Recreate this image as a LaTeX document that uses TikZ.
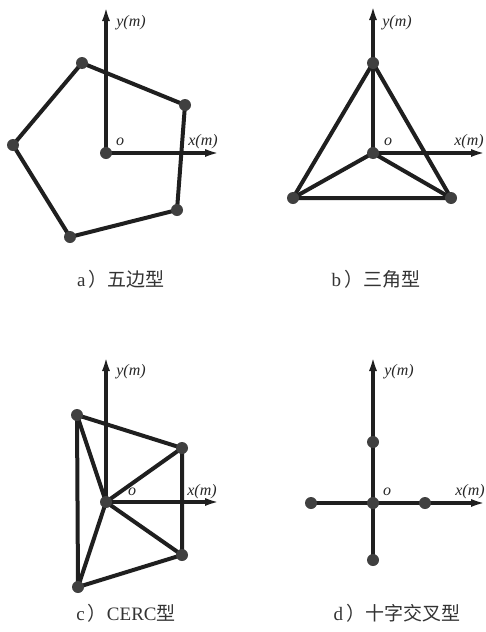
\documentclass[tikz,border=0pt]{standalone}
\usepackage{fontspec}
\setmainfont{Liberation Serif}
\newfontfamily\cjk{Noto Sans CJK SC}
\usetikzlibrary{arrows.meta}
\begin{document}
\begin{tikzpicture}[x=1pt,y=-1pt,
  edge/.style={line width=4pt,draw=black!88,line join=round},
  axis/.style={line width=4pt,draw=black!88,-{Latex[length=15pt,width=8pt]}},
  dot/.style={circle,fill=black!75,inner sep=0pt,minimum size=12pt},
  lab/.style={font=\fontsize{16}{16}\selectfont\itshape,inner sep=0pt,text=black!85},
  captxt/.style={font=\fontsize{19}{19}\selectfont,inner sep=0pt,text=black!80}]
\useasboundingbox (0,0) rectangle (486,632);
% ---------- a) pentagon
\coordinate (aO) at (106,153);
\coordinate (aY) at (106,6);
\coordinate (aX) at (220,153);
\coordinate (a1) at (82,63);
\coordinate (a2) at (185,105);
\coordinate (a3) at (177,210);
\coordinate (a4) at (70,237);
\coordinate (a5) at (13,145);
\draw[edge] (a1)--(a2)--(a3)--(a4)--(a5)--cycle;
\draw[axis] (aO)--(aY);
\draw[axis] (aO)--(aX);
\foreach \p in {aO,a1,a2,a3,a4,a5} \node[dot] (n\p) at (\p) {};
\node[lab] (ay) at (131,23) {y(m)};
\node[lab] (ao) at (120,142) {o};
\node[lab] (ax) at (203,142) {x(m)};
\node[captxt] (acap) at (121,279) {a\,{\cjk ）五边型}};
% ---------- b) triangle
\coordinate (bO) at (373,153);
\coordinate (bY) at (373,5);
\coordinate (bX) at (486,153);
\coordinate (b1) at (373,63);
\coordinate (b2) at (293,198);
\coordinate (b3) at (451,198);
\draw[edge] (b1)--(b2)--(b3)--cycle;
\draw[edge] (b2)--(bO)--(b3);
\draw[axis] (bO)--(bY);
\draw[axis] (bO)--(bX);
\foreach \p in {bO,b1,b2,b3} \node[dot] (n\p) at (\p) {};
\node[lab] (by) at (397,23) {y(m)};
\node[lab] (bo) at (388,142) {o};
\node[lab] (bx) at (469,142) {x(m)};
\node[captxt] (bcap) at (376,279) {b\,{\cjk ）三角型}};
% ---------- c) CERC
\coordinate (cO) at (106,502);
\coordinate (cY) at (106,356);
\coordinate (cX) at (220,502);
\coordinate (c1) at (77,415);
\coordinate (c2) at (182,448);
\coordinate (c3) at (182,555);
\coordinate (c4) at (78,587);
\draw[edge] (c1)--(c2)--(c3)--(c4)--cycle;
\draw[edge] (c1)--(cO)--(c2);
\draw[edge] (c3)--(cO)--(c4);
\draw[axis] (cO)--(cY);
\draw[axis] (cO)--(cX);
\foreach \p in {cO,c1,c2,c3,c4} \node[dot] (n\p) at (\p) {};
\node[lab] (cy) at (131,372) {y(m)};
\node[lab] (co) at (132,492) {o};
\node[lab] (cx) at (202,492) {x(m)};
\node[captxt] (ccap) at (126,613) {c\,{\cjk ）}CERC{\cjk 型}};
% ---------- d) cross
\coordinate (dO) at (373,503);
\coordinate (dY) at (373,356);
\coordinate (dX) at (486,503);
\coordinate (d1) at (373,442);
\coordinate (d2) at (311,503);
\coordinate (d3) at (425,503);
\coordinate (d4) at (373,560);
\draw[axis] (d4)--(dY);
\draw[axis] (d2)--(dX);
\foreach \p in {dO,d1,d2,d3,d4} \node[dot] (n\p) at (\p) {};
\node[lab] (dy) at (399,372) {y(m)};
\node[lab] (dlo) at (387,492) {o};
\node[lab] (dx) at (470,492) {x(m)};
\node[captxt] (dcap) at (397,613) {d\,{\cjk ）十字交叉型}};
\end{tikzpicture}
\end{document}
